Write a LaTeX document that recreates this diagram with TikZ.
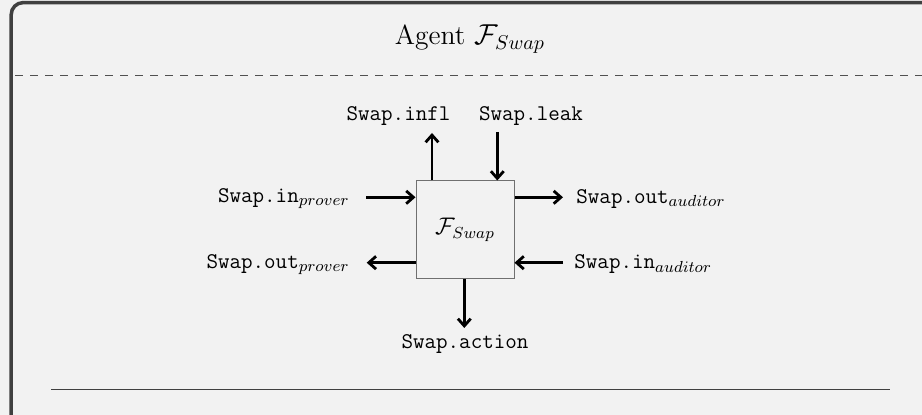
\documentclass[tikz,border=0pt]{standalone}
\usetikzlibrary{arrows.meta}
\definecolor{panel}{HTML}{F2F2F2}
\definecolor{framegray}{HTML}{404040}
\definecolor{rulegray}{HTML}{505050}
\definecolor{boxgray}{HTML}{707070}
\begin{document}
\begin{tikzpicture}[x=0.5pt,y=-0.5pt,
  lbl/.style={inner sep=0pt, font=\fontsize{11.2}{13.5}\selectfont},
  port/.style={draw=black, line width=1.4pt, -{Straight Barb[length=3.6pt,width=6.4pt]}},
  funcbox/.style={draw=boxgray, line width=0.5pt, minimum size=49pt, inner sep=0pt,
                  font=\fontsize{11.5}{14}\selectfont}]
  % canvas
  \useasboundingbox (0,0) rectangle (922,415);
  \clip (0,0) rectangle (922,415);
  \fill[panel] (0,0) rectangle (922,415);
  % outer frame of the agent panel
  \draw[framegray, line width=1.75pt, rounded corners=6pt] (11.2,2.6) rectangle (1000,500);
  % title and separators
  \node[anchor=base, inner sep=0pt, font=\fontsize{13.8}{16.5}\selectfont] (title) at (470,45) {Agent $\mathcal{F}_{Swap}$};
  \coordinate (dashL) at (13,75.5);
  \coordinate (dashR) at (922,75.5);
  \draw[rulegray, line width=0.5pt, dash pattern=on 4pt off 3.5pt, dash phase=-1pt] (dashL) -- (dashR);
  \coordinate (ruleL) at (51,389.7);
  \coordinate (ruleR) at (890,389.7);
  \draw[framegray, line width=0.65pt] (ruleL) -- (ruleR);
  % functionality box
  \node[funcbox] (F) at (465,230) {$\mathcal{F}_{Swap}$};
  % labels
  \node[lbl, anchor=base] (infl) at (398.5,120.7) {\texttt{Swap.infl}};
  \node[lbl, anchor=base] (leak) at (531,120.7) {\texttt{Swap.leak}};
  \node[lbl, anchor=base east] (inP) at (350,202.7) {\texttt{Swap.in}$_{prover}$};
  \node[lbl, anchor=base east] (outP) at (350,268.3) {\texttt{Swap.out}$_{prover}$};
  \node[lbl, anchor=base west] (outA) at (576,203.3) {\texttt{Swap.out}$_{auditor}$};
  \node[lbl, anchor=base west] (inA) at (574,269) {\texttt{Swap.in}$_{auditor}$};
  \node[lbl, anchor=base] (act) at (465,349) {\texttt{Swap.action}};
  % free ends of the port arrows
  \coordinate (inflEnd) at (432,133);
  \coordinate (leakEnd) at (497.3,132);
  \coordinate (inPEnd) at (366,197.3);
  \coordinate (outPEnd) at (366.7,262.7);
  \coordinate (outAEnd) at (563,197.3);
  \coordinate (inAEnd) at (563,262.7);
  \coordinate (actEnd) at (464.3,328);
  % ports
  \draw[port] (F.north -| inflEnd) -- (inflEnd);
  \draw[port] (leakEnd) -- (F.north -| leakEnd);
  \draw[port] (inPEnd) -- (F.west |- inPEnd);
  \draw[port] (F.west |- outPEnd) -- (outPEnd);
  \draw[port] (F.east |- outAEnd) -- (outAEnd);
  \draw[port] (inAEnd) -- (F.east |- inAEnd);
  \draw[port] (F.south -| actEnd) -- (actEnd);
\end{tikzpicture}
\end{document}
